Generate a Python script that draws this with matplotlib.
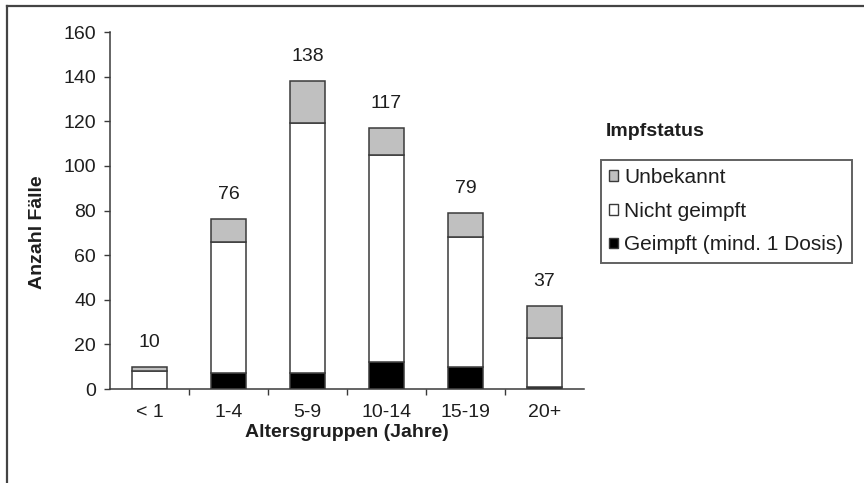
import numpy as np
import matplotlib
matplotlib.use('Agg')
import matplotlib.pyplot as plt
from matplotlib.patches import Patch
from matplotlib.lines import Line2D

plt.rcParams['font.family'] = ['Liberation Sans', 'DejaVu Sans']

# data
age_groups = ['< 1', '1-4', '5-9', '10-14', '15-19', '20+']
geimpft = [0, 7, 7, 12, 10, 1]
nicht_geimpft = [8, 59, 112, 93, 58, 22]
unbekannt = [2, 10, 19, 12, 11, 14]
totals = [10, 76, 138, 117, 79, 37]
series_labels = ['Geimpft (mind. 1 Dosis)', 'Nicht geimpft', 'Unbekannt']

edge = '#3a3a3a'
txt = '#1e1e1e'
colors = ['black', 'white', '#c0c0c0']
fs = 14

fig = plt.figure(figsize=(8.64, 4.83), dpi=100)
ax = fig.add_axes([110/864, 1-389/483, 474/864, 357/483])

x = np.arange(len(age_groups))
g = np.array(geimpft)
n = np.array(nicht_geimpft)
u = np.array(unbekannt)
for vals, bottom, c in [(g, 0, colors[0]), (n, g, colors[1]), (u, g + n, colors[2])]:
    ax.bar(x, vals, bottom=bottom, width=0.45, color=c, edgecolor=edge, linewidth=1.1)

for xi, t in zip(x, totals):
    ax.text(xi, t + 11, str(t), ha='center', va='center', fontsize=fs, color=txt)

ax.set_xlim(-0.5, 5.5)
ax.set_ylim(0, 160)
ax.set_yticks(range(0, 161, 20))
ax.tick_params(axis='y', length=4, width=1, color=edge, labelsize=fs, pad=6, labelcolor=txt)
ax.set_xticks(x)
ax.set_xticklabels(age_groups)
ax.set_xticks(np.arange(0.5, 5.5, 1), minor=True)
ax.tick_params(axis='x', which='major', length=0, labelsize=fs, pad=11, labelcolor=txt)
ax.tick_params(axis='x', which='minor', length=4, width=1, color=edge)

for s in ['top', 'right']:
    ax.spines[s].set_visible(False)
for s in ['left', 'bottom']:
    ax.spines[s].set_color(edge)
    ax.spines[s].set_linewidth(1.1)

ax.set_xlabel('Altersgruppen (Jahre)', fontsize=fs, fontweight='bold', labelpad=2, color=txt)
ax.set_ylabel('Anzahl Fälle', fontsize=fs, fontweight='bold', color=txt)
ax.yaxis.set_label_coords(-0.135, 0.44)

# legend: title sits above the box
handles = [Patch(facecolor=colors[2], edgecolor=edge, linewidth=1),
           Patch(facecolor=colors[1], edgecolor=edge, linewidth=1),
           Patch(facecolor=colors[0], edgecolor=edge, linewidth=1)]
labels = [series_labels[2], series_labels[1], series_labels[0]]
leg = fig.legend(handles, labels, loc='upper left', bbox_to_anchor=(601/864, 1-160/483),
                 borderaxespad=0, fontsize=15, frameon=True, fancybox=False,
                 handlelength=0.42, handleheight=0.42, handletextpad=0.3,
                 labelspacing=0.7, borderpad=0.4)
leg.get_frame().set_edgecolor(edge)
leg.get_frame().set_linewidth(1.4)
for t in leg.get_texts():
    t.set_color(txt)
fig.text(606/864, 1-131/483, 'Impfstatus', fontsize=fs, fontweight='bold', va='center', ha='left', color=txt)

# outer frame (left and top only)
fig.add_artist(Line2D([7/864, 7/864], [0, 1-6/483], transform=fig.transFigure, color='#444444', linewidth=1.6))
fig.add_artist(Line2D([7/864, 1], [1-6/483, 1-6/483], transform=fig.transFigure, color='#444444', linewidth=1.6))

fig.savefig('out.png', dpi=100)
